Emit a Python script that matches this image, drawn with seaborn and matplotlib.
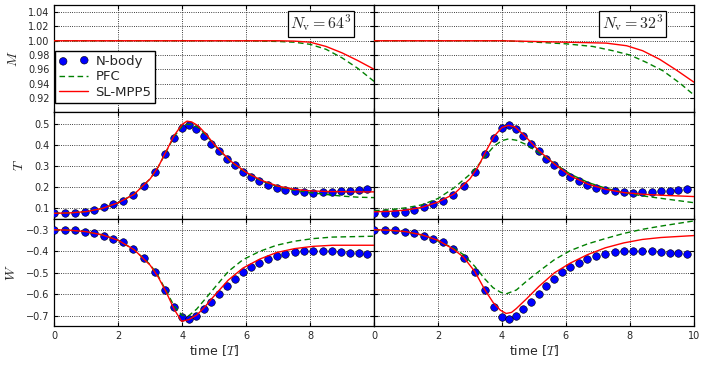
import numpy as np
import matplotlib
matplotlib.use("Agg")
import matplotlib.pyplot as plt
import seaborn as sns

# N-body reference run (same in both columns)
t_nbody = [0.0, 0.33, 0.65, 0.97, 1.25, 1.55, 1.85, 2.14, 2.47, 2.80, 3.15, 3.46,
           3.74, 4.0, 4.21, 4.44, 4.67, 4.91, 5.15, 5.39, 5.64, 5.89, 6.14, 6.40,
           6.67, 6.95, 7.23, 7.52, 7.81, 8.09, 8.39, 8.68, 8.97, 9.24, 9.52, 9.79]
T_nbody = [0.077, 0.077, 0.078, 0.084, 0.094, 0.108, 0.123, 0.136, 0.1625, 0.208, 0.272, 0.355,
           0.433, 0.480, 0.492, 0.475, 0.441, 0.405, 0.370, 0.334, 0.303, 0.273, 0.250, 0.230,
           0.2125, 0.198, 0.189, 0.181, 0.178, 0.175, 0.177, 0.178, 0.180, 0.183, 0.1875, 0.192]
W_nbody = [-0.300, -0.302, -0.303, -0.309, -0.317, -0.328, -0.342, -0.359, -0.389, -0.431, -0.495, -0.580,
           -0.658, -0.706, -0.717, -0.702, -0.670, -0.634, -0.598, -0.561, -0.528, -0.498, -0.475, -0.456,
           -0.4375, -0.423, -0.4125, -0.405, -0.401, -0.398, -0.399, -0.401, -0.404, -0.407, -0.410, -0.413]

# Nv = 64^3
t_M64_sl = [0, 7, 7.5, 8, 8.5, 9, 9.5, 10]
M64_sl = [1.0, 1.0, 0.9995, 0.998, 0.992, 0.983, 0.972, 0.960]
t_M64_pfc = [0, 6, 7, 7.5, 8, 8.5, 9, 9.5, 10]
M64_pfc = [1.0, 1.0, 0.999, 0.998, 0.995, 0.988, 0.976, 0.961, 0.943]

t_T64_sl = [0, 0.5, 1, 1.5, 2, 2.5, 3, 3.25, 3.5, 3.75, 4.0, 4.15, 4.3, 4.5, 4.75,
            5, 5.5, 6, 6.5, 7, 7.5, 8, 8.5, 9, 9.5, 10]
T64_sl = [0.077, 0.079, 0.085, 0.100, 0.127, 0.167, 0.240, 0.296, 0.370, 0.445, 0.497, 0.512, 0.508,
          0.490, 0.450, 0.402, 0.325, 0.270, 0.231, 0.205, 0.190, 0.183, 0.180, 0.179, 0.178, 0.178]
t_T64_pfc = [0, 0.5, 1, 1.5, 2, 2.5, 3, 3.25, 3.5, 3.75, 4.0, 4.15, 4.3, 4.5, 4.75,
             5, 5.5, 6, 6.5, 7, 7.5, 8, 8.5, 9, 9.5, 10]
T64_pfc = [0.077, 0.079, 0.085, 0.100, 0.127, 0.167, 0.240, 0.296, 0.368, 0.440, 0.488, 0.497, 0.496,
           0.482, 0.445, 0.400, 0.322, 0.268, 0.228, 0.203, 0.186, 0.175, 0.166, 0.158, 0.153, 0.151]

t_W64_sl = [0, 0.5, 1, 1.5, 2, 2.5, 3, 3.25, 3.5, 3.75, 3.98, 4.2, 4.45, 4.7, 4.93,
            5.44, 5.9, 6.43, 6.95, 7.52, 8.1, 8.7, 10]
W64_sl = [-0.300, -0.302, -0.309, -0.324, -0.349, -0.393, -0.465, -0.520, -0.590, -0.670, -0.725,
          -0.718, -0.697, -0.660, -0.619, -0.534, -0.478, -0.436, -0.406, -0.3875, -0.377, -0.372, -0.372]
t_W64_pfc = [0, 0.5, 1, 1.5, 2, 2.5, 3, 3.25, 3.5, 3.75, 4.0, 4.2, 4.45, 4.7, 4.93,
             5.44, 5.9, 6.43, 6.95, 7.52, 8.1, 8.7, 10]
W64_pfc = [-0.300, -0.302, -0.309, -0.324, -0.349, -0.393, -0.462, -0.515, -0.585, -0.655, -0.698,
           -0.700, -0.669, -0.625, -0.584, -0.494, -0.439, -0.400, -0.372, -0.353, -0.341, -0.334, -0.330]

# Nv = 32^3
t_M32_sl = [0, 4, 6, 7.26, 7.9, 8.4, 8.93, 9.45, 10]
M32_sl = [1.0, 1.0, 0.998, 0.9967, 0.993, 0.986, 0.974, 0.959, 0.942]
t_M32_pfc = [0, 4, 5.07, 6, 6.84, 7.47, 8, 8.5, 9.03, 9.55, 10]
M32_pfc = [1.0, 1.0, 0.998, 0.9957, 0.992, 0.986, 0.980, 0.970, 0.958, 0.941, 0.924]

t_T32_sl = [0, 0.5, 1, 1.5, 2, 2.5, 3, 3.25, 3.5, 3.75, 4.0, 4.2, 4.4, 4.7, 5.15,
            5.65, 6.15, 6.7, 7.25, 7.8, 8.4, 9.0, 10]
T32_sl = [0.084, 0.086, 0.092, 0.105, 0.130, 0.168, 0.240, 0.296, 0.370, 0.440, 0.482, 0.492, 0.485,
          0.445, 0.373, 0.308, 0.253, 0.214, 0.190, 0.175, 0.167, 0.162, 0.156]
t_T32_pfc = [0, 0.5, 1, 1.5, 2, 2.5, 3, 3.25, 3.5, 3.75, 4.0, 4.2, 4.45, 4.75, 5.15,
             5.65, 6.15, 6.7, 7.25, 7.8, 8.4, 9.0, 10]
T32_pfc = [0.089, 0.094, 0.103, 0.117, 0.147, 0.197, 0.261, 0.303, 0.350, 0.394, 0.420, 0.428, 0.422,
           0.402, 0.363, 0.311, 0.261, 0.222, 0.195, 0.175, 0.159, 0.147, 0.127]

t_W32_sl = [0, 0.5, 1, 1.5, 2, 2.5, 2.8, 3.15, 3.46, 3.72, 3.95, 4.13, 4.3, 4.45, 4.76,
            5.15, 5.64, 6.135, 6.67, 7.23, 7.81, 8.39, 8.97, 10]
W32_sl = [-0.300, -0.302, -0.309, -0.324, -0.349, -0.392, -0.428, -0.494, -0.578, -0.6375, -0.674,
          -0.689, -0.684, -0.666, -0.622, -0.564, -0.500, -0.455, -0.416, -0.384, -0.361, -0.345,
          -0.336, -0.327]
t_W32_pfc = [0, 0.5, 1, 1.5, 1.84, 2.47, 2.8, 3.15, 3.46, 3.72, 3.95, 4.13, 4.45, 4.76,
             5.15, 5.64, 6.135, 6.67, 7.23, 7.81, 8.39, 8.97, 10]
W32_pfc = [-0.300, -0.303, -0.309, -0.325, -0.342, -0.384, -0.416, -0.470, -0.528, -0.569, -0.590,
           -0.598, -0.580, -0.540, -0.494, -0.439, -0.397, -0.366, -0.341, -0.317, -0.298, -0.283, -0.259]

x_ticks = [0, 2, 4, 6, 8, 10]
left_xlabels = ["0", "2", "4", "6", "8", ""]
right_xlabels = ["0", "2", "4", "6", "8", "10"]

sns.set_style("ticks", {"axes.grid": True, "grid.linestyle": ":", "grid.color": "k",
                        "axes.edgecolor": "k", "xtick.direction": "in", "ytick.direction": "in",
                        "xtick.top": True, "ytick.right": True})
plt.rcParams["mathtext.fontset"] = "cm"
plt.rcParams["grid.linewidth"] = 0.6
plt.rcParams["font.family"] = ["DejaVu Sans"]

fig, axes = plt.subplots(3, 2, figsize=(7.08, 3.65), dpi=100, sharey="row")
fig.subplots_adjust(left=0.0767, right=0.980, top=0.986, bottom=0.107, hspace=0, wspace=0)

cols = [
    dict(M=(t_M64_pfc, M64_pfc, t_M64_sl, M64_sl), T=(t_T64_pfc, T64_pfc, t_T64_sl, T64_sl),
         W=(t_W64_pfc, W64_pfc, t_W64_sl, W64_sl), label=r"$N_\mathrm{v}=64^3$", tx=0.834),
    dict(M=(t_M32_pfc, M32_pfc, t_M32_sl, M32_sl), T=(t_T32_pfc, T32_pfc, t_T32_sl, T32_sl),
         W=(t_W32_pfc, W32_pfc, t_W32_sl, W32_sl), label=r"$N_\mathrm{v}=32^3$", tx=0.808),
]

for j, c in enumerate(cols):
    for i, key in enumerate(["M", "T", "W"]):
        ax = axes[i, j]
        tp, vp, ts, vs = c[key]
        if key != "M":
            vals = T_nbody if key == "T" else W_nbody
            sns.scatterplot(x=t_nbody, y=vals, ax=ax, color="b", edgecolor="k", linewidth=0.4,
                            s=30, zorder=3, label="N-body", legend=False)
        sns.lineplot(x=tp, y=vp, ax=ax, color="g", ls=(0, (4, 2.5)), lw=1.0,
                     errorbar=None, label="PFC", legend=False, zorder=4)
        sns.lineplot(x=ts, y=vs, ax=ax, color="r", lw=1.0, errorbar=None,
                     label="SL-MPP5", legend=False, zorder=5)
        ax.set_xlim(0, 10)
        ax.set_xticks(x_ticks)
        if i < 2:
            ax.set_xticklabels([])
        else:
            ax.set_xticklabels(left_xlabels if j == 0 else right_xlabels)
            ax.set_xlabel("time [$T$]", fontsize=9, labelpad=2)
        ax.tick_params(labelsize=7, length=3, width=0.8, color="k")
        for sp in ax.spines.values():
            sp.set_linewidth(0.9)
    axes[0, j].text(c["tx"], 0.827, c["label"], transform=axes[0, j].transAxes, fontsize=11.5,
                    ha="center", va="center",
                    bbox=dict(boxstyle="square,pad=0.15", fc="w", ec="k", lw=0.9), zorder=10)

axes[0, 0].set_ylim(0.90, 1.05)
axes[0, 0].set_yticks([0.92, 0.94, 0.96, 0.98, 1.00, 1.02, 1.04])
axes[1, 0].set_ylim(0.05, 0.555)
axes[1, 0].set_yticks([0.1, 0.2, 0.3, 0.4, 0.5])
axes[2, 0].set_ylim(-0.747, -0.25)
axes[2, 0].set_yticks([-0.7, -0.6, -0.5, -0.4, -0.3])
for ax, lab in zip(axes[:, 0], ["$M$", "$T$", "$W$"]):
    ax.set_ylabel(lab, fontsize=10, labelpad=6)
for ax in axes[:, 1]:
    ax.set_ylabel("")

h, l = axes[1, 0].get_legend_handles_labels()
axes[0, 0].legend(h, l, loc="lower left", bbox_to_anchor=(0.003, 0.084), borderaxespad=0,
                  fontsize=9.5, scatterpoints=2, handlelength=2.2, handletextpad=0.55,
                  borderpad=0.3, labelspacing=0.2, fancybox=False, framealpha=1,
                  edgecolor="k")

fig.savefig("out.png", dpi=100)
